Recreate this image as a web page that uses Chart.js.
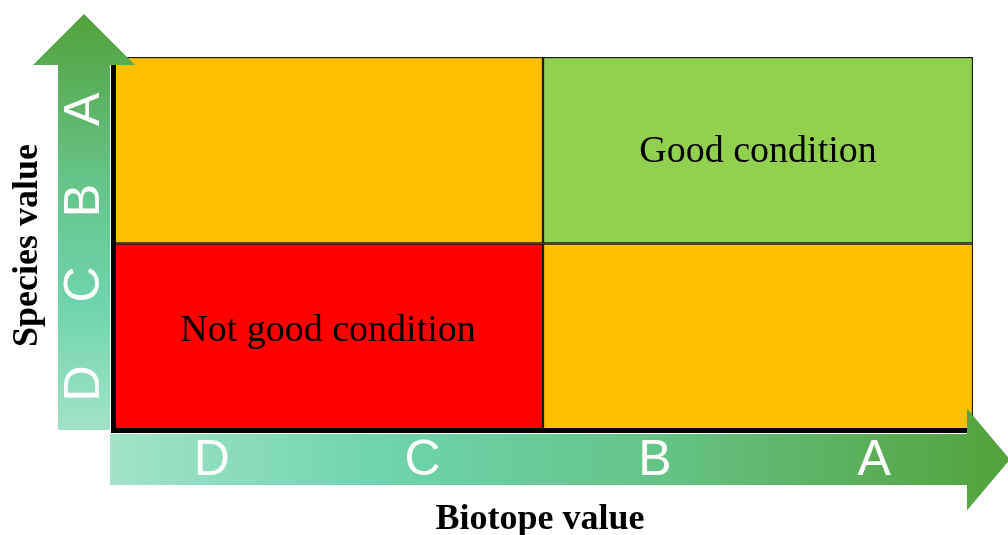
<!DOCTYPE html>
<html>
<head>
<meta charset="utf-8">
<script src="https://cdn.jsdelivr.net/npm/chart.js@4.4.1/dist/chart.umd.min.js"></script>
<style>
  html, body { margin: 0; padding: 0; background: #ffffff; }
  #wrap { width: 1008px; height: 535px; }
</style>
</head>
<body>
<div id="wrap"><canvas id="c" width="1008" height="535"></canvas></div>
<script>
// ---- data ----
const biotopeCategories = ['D–C', 'B–A'];          // x categories (low, high)
const lowerRowValues = [1, 1];                       // species value D–C (bottom row)
const upperRowValues = [1, 1];                       // species value B–A (top row)
const lowerRowColors = ['#FF0000', '#FFC000'];
const upperRowColors = ['#FFC000', '#92D050'];
const gradeLetters = ['D', 'C', 'B', 'A'];
const biotopeLetterPos = [0.23, 0.72, 1.26, 1.77];   // along x (0..2)
const speciesLetterPos = [0.25, 0.78, 1.23, 1.72];   // along y (0..2)
const quadrantLabels = ['Not good condition', 'Good condition'];
const quadrantLabelX = [0.5, 1.5];
const quadrantLabelY = [0.53, 1.49];
const xTitle = 'Biotope value';
const yTitle = 'Species value';

function hGrad(ctx, x0, x1) {
  const g = ctx.createLinearGradient(x0, 0, x1, 0);
  g.addColorStop(0, '#a2e2c9');
  g.addColorStop(0.3, '#6fd4ae');
  g.addColorStop(0.6, '#66c488');
  g.addColorStop(1, '#53a13b');
  return g;
}
function vGrad(ctx, y0, y1) {
  const g = ctx.createLinearGradient(0, y0, 0, y1);
  g.addColorStop(0, '#a2e2c9');
  g.addColorStop(0.3, '#6fd4ae');
  g.addColorStop(0.6, '#66c488');
  g.addColorStop(1, '#53a13b');
  return g;
}

const decorPlugin = {
  id: 'decor',
  afterDraw(chart) {
    const ctx = chart.ctx;
    const ca = chart.chartArea;
    const xs = chart.scales.x, ys = chart.scales.y;
    // category scale spans -0.5..1.5 in index units -> shift 0..2 positions
    const xp = v => xs.getPixelForValue(v - 0.5);
    ctx.save();
    // vertical arrow (species value)
    const vL = ca.left - 55, vR = ca.left - 3, vBottom = ca.bottom, vHeadBase = ca.top + 8;
    const vMid = (vL + vR) / 2;
    ctx.fillStyle = vGrad(ctx, vBottom, ca.top - 43);
    ctx.beginPath();
    ctx.moveTo(vL, vBottom);
    ctx.lineTo(vR, vBottom);
    ctx.lineTo(vR, vHeadBase);
    ctx.lineTo(vMid + 51, vHeadBase);
    ctx.lineTo(vMid, ca.top - 43);
    ctx.lineTo(vMid - 51, vHeadBase);
    ctx.lineTo(vL, vHeadBase);
    ctx.closePath();
    ctx.fill();
    // horizontal arrow (biotope value)
    const hT = ca.bottom + 4, hB = ca.bottom + 55, hLeft = ca.left - 3, hHeadBase = ca.right - 6;
    const hMid = (hT + hB) / 2;
    ctx.fillStyle = hGrad(ctx, hLeft, ca.right + 37);
    ctx.beginPath();
    ctx.moveTo(hLeft, hT);
    ctx.lineTo(hHeadBase, hT);
    ctx.lineTo(hHeadBase, hMid - 51);
    ctx.lineTo(ca.right + 37, hMid);
    ctx.lineTo(hHeadBase, hMid + 51);
    ctx.lineTo(hHeadBase, hB);
    ctx.lineTo(hLeft, hB);
    ctx.closePath();
    ctx.fill();

    // grade letters
    ctx.fillStyle = '#ffffff';
    ctx.font = '50px "Liberation Sans", Arial, sans-serif';
    ctx.textAlign = 'center';
    ctx.textBaseline = 'middle';
    gradeLetters.forEach((L, i) => {
      ctx.fillText(L, xp(biotopeLetterPos[i]), hMid + 1.5);
    });
    gradeLetters.forEach((L, i) => {
      ctx.save();
      ctx.translate(vMid + 1, ys.getPixelForValue(speciesLetterPos[i]));
      ctx.rotate(-Math.PI / 2);
      ctx.fillText(L, 0, 0);
      ctx.restore();
    });

    // axis titles
    ctx.fillStyle = '#000000';
    ctx.font = 'bold 36px "Liberation Serif", "Times New Roman", serif';
    ctx.textBaseline = 'alphabetic';
    ctx.fillText(xTitle, (ca.left + ca.right) / 2 - 3, 529);
    ctx.save();
    ctx.translate(37, (ca.top + ca.bottom) / 2 + 2);
    ctx.rotate(-Math.PI / 2);
    ctx.fillText(yTitle, 0, 0);
    ctx.restore();

    // quadrant labels
    ctx.font = '38px "Liberation Serif", "Times New Roman", serif';
    ctx.textBaseline = 'middle';
    quadrantLabels.forEach((t, i) => {
      ctx.fillText(t, xp(quadrantLabelX[i]), ys.getPixelForValue(quadrantLabelY[i]));
    });
    ctx.restore();
  }
};

new Chart(document.getElementById('c'), {
  type: 'bar',
  data: {
    labels: biotopeCategories,
    datasets: [
      { label: 'Species D–C', data: lowerRowValues, backgroundColor: lowerRowColors },
      { label: 'Species B–A', data: upperRowValues, backgroundColor: upperRowColors }
    ]
  },
  options: {
    responsive: false,
    animation: false,
    events: [],
    layout: { padding: { left: 113, top: 57, right: 35, bottom: 105 } },
    datasets: {
      bar: {
        barPercentage: 1, categoryPercentage: 1,
        borderWidth: 1.5, borderColor: '#1b1b1b', borderSkipped: false
      }
    },
    plugins: { legend: { display: false }, tooltip: { enabled: false }, title: { display: false } },
    scales: {
      x: {
        stacked: true,
        grid: { display: false, drawTicks: false, tickLength: 0 },
        ticks: { display: false, padding: 0 },
        border: { display: true, color: '#000000', width: 5, z: 1 }
      },
      y: {
        stacked: true, min: 0, max: 2,
        grid: { display: false, drawTicks: false, tickLength: 0 },
        ticks: { display: false, padding: 0 },
        border: { display: true, color: '#000000', width: 5, z: 1 }
      }
    }
  },
  plugins: [decorPlugin]
});
</script>
</body>
</html>
